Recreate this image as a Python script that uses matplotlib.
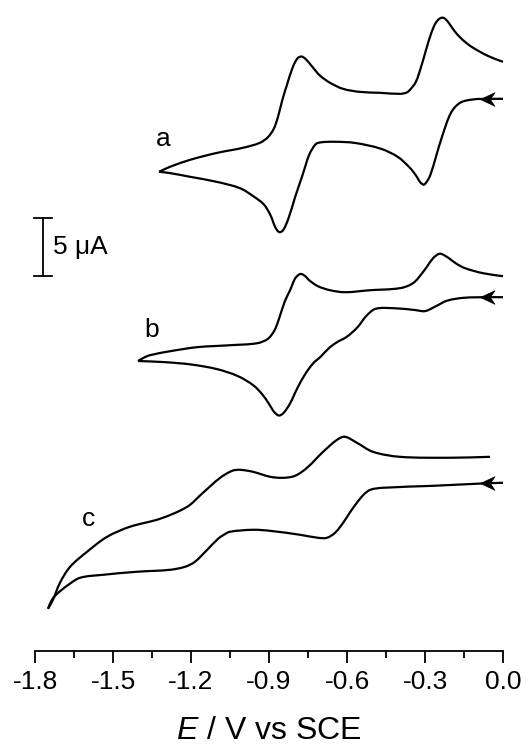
import matplotlib
matplotlib.use("Agg")
import numpy as np
import matplotlib.pyplot as plt
from matplotlib.path import Path
from matplotlib.patches import PathPatch
from matplotlib.ticker import MultipleLocator, FormatStrFormatter

plt.rcParams['font.family'] = ['Liberation Sans', 'DejaVu Sans']
plt.rcParams['axes.unicode_minus'] = False
plt.rcParams['mathtext.fontset'] = 'custom'
plt.rcParams['mathtext.it'] = 'Liberation Sans:italic'
plt.rcParams['mathtext.rm'] = 'Liberation Sans'

# ---------------- data (E in V vs SCE, current in uA relative to each trace's start) -------------
# curve a
Ea_fwd = [0.000, -0.050, -0.115, -0.165, -0.200, -0.235, -0.258, -0.280, -0.295, -0.305, -0.318,
          -0.335, -0.360, -0.405, -0.470, -0.570, -0.650, -0.700, -0.720, -0.745, -0.770, -0.800,
          -0.825, -0.845, -0.860, -0.875, -0.895, -0.920, -0.960, -1.012, -1.100, -1.204, -1.281,
          -1.323]
Ia_fwd = [0.00, 0.00, -0.05, -0.34, -1.2, -3.3, -5.0, -6.6, -7.2, -7.4, -7.2,
          -6.6, -5.9, -5.0, -4.3, -3.8, -3.7, -3.75, -3.9, -4.8, -6.5, -8.5,
          -10.3, -11.3, -11.5, -11.1, -10.0, -9.1, -8.4, -7.7, -7.16, -6.72, -6.4,
          -6.29]
Ea_rev = [-1.323, -1.300, -1.281, -1.204, -1.100, -1.000, -0.935, -0.904, -0.882, -0.866,
          -0.850, -0.831, -0.808, -0.790, -0.775, -0.760, -0.742, -0.720, -0.704, -0.665, -0.615,
          -0.550, -0.473, -0.396, -0.370, -0.355, -0.335, -0.315, -0.296, -0.277, -0.260, -0.245,
          -0.232, -0.220, -0.204, -0.185, -0.165, -0.140, -0.115, -0.058, 0.000]
Ia_rev = [-6.29, -6.05, -5.86, -5.26, -4.66, -4.22, -3.79, -3.3, -2.6, -1.6,
          -0.2, 1.2, 2.76, 3.5, 3.65, 3.45, 3.0, 2.4, 2.0, 1.38, 0.86,
          0.60, 0.52, 0.43, 0.55, 0.85, 1.47, 2.76, 4.22, 5.6, 6.5, 6.9,
          7.0, 6.85, 6.4, 5.8, 5.3, 4.8, 4.4, 3.7, 3.19]

# curve b
Eb_fwd = [0.000, -0.062, -0.150, -0.215, -0.260, -0.300, -0.340, -0.420, -0.490, -0.525, -0.560,
          -0.600, -0.640, -0.670, -0.700, -0.730, -0.760, -0.790, -0.820, -0.845, -0.862, -0.880,
          -0.900, -0.925, -0.960, -1.020, -1.100, -1.200, -1.300, -1.404]
Ib_fwd = [0.00, 0.00, -0.05, -0.3, -0.8, -1.2, -1.1, -0.95, -1.0, -1.6, -2.6,
          -3.4, -3.9, -4.4, -5.1, -5.7, -6.6, -7.8, -9.2, -10.0, -10.2, -9.9,
          -9.2, -8.4, -7.6, -6.8, -6.2, -5.8, -5.6, -5.5]
Eb_rev = [-1.404, -1.380, -1.358, -1.281, -1.177, -1.050, -0.946, -0.905, -0.880, -0.862,
          -0.840, -0.819, -0.800, -0.785, -0.775, -0.760, -0.746, -0.712, -0.665, -0.608, -0.512,
          -0.396, -0.346, -0.308, -0.269, -0.250, -0.240, -0.225, -0.208, -0.180, -0.146, -0.077,
          0.000]
Ib_rev = [-5.5, -5.2, -5.0, -4.66, -4.31, -4.14, -3.97, -3.6, -2.9, -1.9,
          -0.4, 0.60, 1.6, 1.95, 2.0, 1.8, 1.47, 0.95, 0.60, 0.43, 0.60,
          0.78, 1.21, 2.16, 3.36, 3.7, 3.75, 3.6, 3.36, 2.9, 2.50, 2.07,
          1.81]

# curve c
Ec_fwd = [0.000, -0.062, -0.269, -0.462, -0.510, -0.535, -0.562, -0.590, -0.615, -0.646, -0.677,
          -0.712, -0.781, -0.896, -0.962, -1.050, -1.075, -1.096, -1.138, -1.185, -1.223, -1.281,
          -1.408, -1.538, -1.627, -1.677, -1.715, -1.735, -1.750]
Ic_fwd = [0.00, -0.04, -0.26, -0.43, -0.6, -1.0, -1.72, -2.6, -3.45, -4.31, -4.74,
          -4.74, -4.48, -4.14, -4.05, -4.22, -4.5, -4.83, -5.78, -6.81, -7.24, -7.50,
          -7.67, -7.93, -8.19, -8.88, -9.57, -10.09, -10.86]
Ec_rev = [-1.750, -1.731, -1.704, -1.665, -1.600, -1.523, -1.435, -1.319, -1.215, -1.154, -1.088,
          -1.042, -1.012, -0.962, -0.896, -0.846, -0.800, -0.754, -0.692, -0.638, -0.608, -0.562,
          -0.500, -0.396, -0.204, -0.050]
Ic_rev = [-10.86, -10.09, -8.62, -7.24, -5.95, -4.66, -3.79, -3.10, -2.07, -0.86, 0.43,
          1.03, 1.12, 0.95, 0.52, 0.43, 0.60, 1.29, 2.67, 3.71, 3.97, 3.45,
          2.67, 2.24, 2.16, 2.24]

labels = ["a", "b", "c"]
offsets = [47.6, 30.5, 14.5]           # vertical offsets of the traces (uA)
label_E = [-1.308, -1.350, -1.596]
label_dI = [-3.5, -2.85, -3.1]
arrow_E = -0.054
scale_uA = 5.0
scale_E = -1.769
scale_bottom = 32.3

xticks = [-1.8, -1.5, -1.2, -0.9, -0.6, -0.3, 0.0]

# ---------------- figure ----------------
fig = plt.figure(figsize=(5.28, 7.45), dpi=100)
ax = fig.add_axes([35/528, (745-651)/745, 468/528, 651/745])
ax.set_xlim(-1.8, 0.0)
ax.set_ylim(0, 651/11.6)

curves = [(Ea_fwd, Ia_fwd, Ea_rev, Ia_rev),
          (Eb_fwd, Ib_fwd, Eb_rev, Ib_rev),
          (Ec_fwd, Ic_fwd, Ec_rev, Ic_rev)]


def smooth_path(x, y):
    """Chord-length cubic Hermite path through the read points (drawn by matplotlib's Path)."""
    x = np.asarray(x, float)
    y = np.asarray(y, float)
    sx, sy = 260.0, 11.6             # approx. pixels per unit, for a fair chord length
    px, py = x * sx, y * sy
    d = np.hypot(np.diff(px), np.diff(py))
    t = np.concatenate([[0], np.cumsum(d)])
    n = len(x)
    mx = np.zeros(n)
    my = np.zeros(n)
    for i in range(n):
        a = max(i - 1, 0)
        b = min(i + 1, n - 1)
        mx[i] = (px[b] - px[a]) / (t[b] - t[a])
        my[i] = (py[b] - py[a]) / (t[b] - t[a])
    verts = [(x[0], y[0])]
    codes = [Path.MOVETO]
    for i in range(n - 1):
        h = (t[i + 1] - t[i]) / 3.0
        c1 = ((px[i] + mx[i] * h) / sx, (py[i] + my[i] * h) / sy)
        c2 = ((px[i + 1] - mx[i + 1] * h) / sx, (py[i + 1] - my[i + 1] * h) / sy)
        verts += [c1, c2, (x[i + 1], y[i + 1])]
        codes += [Path.CURVE4, Path.CURVE4, Path.CURVE4]
    return Path(verts, codes)


# arrow head marker (points left)
arrow_path = Path([(-1.0, 0.0), (0.6, 0.75), (0.1, 0.0), (0.6, -0.75), (-1.0, 0.0)],
                  [Path.MOVETO, Path.LINETO, Path.LINETO, Path.LINETO, Path.CLOSEPOLY])

for (ef, i_f, er, i_r), off, lab, lE, ldI in zip(curves, offsets, labels, label_E, label_dI):
    for E, I in ((ef, i_f), (er, i_r)):
        p = smooth_path(E, [v + off for v in I])
        ax.add_patch(PathPatch(p, facecolor='none', edgecolor='black', lw=1.6,
                               clip_on=False, joinstyle='round', capstyle='butt'))
    ax.plot([arrow_E], [off], marker=arrow_path, markersize=13, color='black',
            markeredgewidth=0.5, clip_on=False)
    ax.text(lE, off + ldI, lab, fontsize=19, ha='center', va='center')

# scale bar
ax.plot([scale_E, scale_E], [scale_bottom, scale_bottom + scale_uA], color='black', lw=1.3,
        clip_on=False)
for yy in (scale_bottom, scale_bottom + scale_uA):
    ax.plot([scale_E - 0.036, scale_E + 0.036], [yy, yy], color='black', lw=1.3, clip_on=False)
ax.text(scale_E + 0.038, scale_bottom + scale_uA / 2, "5 \u03bcA", fontsize=19,
        ha='left', va='center')

# axes styling
for s in ('top', 'right', 'left'):
    ax.spines[s].set_visible(False)
ax.spines['bottom'].set_linewidth(1.3)
ax.set_yticks([])
ax.set_xticks(xticks)
ax.xaxis.set_minor_locator(MultipleLocator(0.15))
ax.xaxis.set_major_formatter(FormatStrFormatter('%.1f'))
ax.tick_params(axis='x', which='major', direction='out', length=8.5, width=1.3,
               labelsize=19, pad=5)
ax.tick_params(axis='x', which='minor', direction='out', length=5, width=1.3)
ax.set_xlabel(r'$\mathit{E}$ / V vs SCE', fontsize=23, labelpad=16)

fig.savefig("out.png", dpi=100)
